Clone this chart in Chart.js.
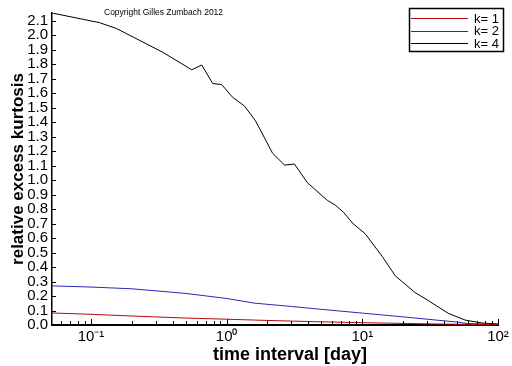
<!DOCTYPE html>
<html>
<head>
<meta charset="utf-8">
<script src="https://cdn.jsdelivr.net/npm/chart.js@4/dist/chart.umd.min.js"></script>
<style>
  html, body { margin: 0; padding: 0; background: #fff; }
  #wrap { width: 512px; height: 366px; }
</style>
</head>
<body>
<div id="wrap"><canvas id="kurtosis-chart"></canvas></div>
<script>
// time interval [day] and relative excess kurtosis
const k1Days = [0.0516, 0.1, 0.2, 0.5, 1, 1.6, 3, 5, 10, 20, 30, 50, 100];
const k1Values = [0.083, 0.074, 0.062, 0.048, 0.04, 0.034, 0.027, 0.022, 0.016, 0.011, 0.008, 0.005, 0.003];

const k2Days = [0.0516, 0.1, 0.2, 0.5, 1, 1.6, 3, 5, 10, 20, 35, 48, 60, 100];
const k2Values = [0.27, 0.262, 0.25, 0.218, 0.183, 0.151, 0.128, 0.108, 0.082, 0.056, 0.034, 0.022, 0.01, 0.004];

const k4Days = [0.0516, 0.116, 0.155, 0.338, 0.553, 0.655, 0.789, 0.918, 1.107, 1.356, 1.633,
  2.18, 2.67, 3.16, 3.94, 5.53, 6.33, 7.25, 8.58, 10.5, 14.0, 17.5, 24.5, 30.6, 42.9, 57.2, 76.2, 100];
const k4Values = [2.154, 2.087, 2.046, 1.883, 1.762, 1.795, 1.667, 1.66, 1.572, 1.511, 1.409,
  1.186, 1.104, 1.111, 0.982, 0.86, 0.827, 0.779, 0.698, 0.63, 0.474, 0.339, 0.224, 0.169, 0.081, 0.034, 0.014, 0.007];

const xMajorTicks = [0.1, 1, 10, 100];
const xTickLabels = ["10\u207B\u00B9", "10\u2070", "10\u00B9", "10\u00B2"];
const xTitle = "time interval [day]";

const COLORS = {
  k1: "#b40a0a",
  k2: "#2828b4",
  k4: "#000000",
};

const FONT = "'Liberation Sans', Arial, sans-serif";

const toPoints = (xs, ys) => xs.map((x, i) => ({ x, y: ys[i] }));

// minor ticks of the log axis: 1..9 times each decade
function logTicks(min, max) {
  const out = [];
  for (let e = -2; e <= 2; e++) {
    for (let m = 1; m <= 9; m++) {
      const v = m * Math.pow(10, e);
      if (v >= min * 0.999 && v <= max * 1.001) out.push(v);
    }
  }
  return out;
}

// inward tick marks, x title, legend box and copyright text
const decorPlugin = {
  id: "decor",
  afterDraw(chart) {
    const ctx = chart.ctx;
    const x = chart.scales.x;
    const y = chart.scales.y;
    const area = chart.chartArea;
    ctx.save();
    ctx.strokeStyle = "#000";
    ctx.lineWidth = 1;
    ctx.beginPath();
    logTicks(x.min, x.max).forEach((v) => {
      const px = Math.round(x.getPixelForValue(v)) + 0.5;
      const major = xMajorTicks.includes(v);
      ctx.moveTo(px, area.bottom);
      ctx.lineTo(px, area.bottom - (major ? 6 : 4));
    });
    y.ticks.forEach((t) => {
      const py = Math.round(y.getPixelForValue(t.value)) + 0.5;
      ctx.moveTo(area.left, py);
      ctx.lineTo(area.left + 4, py);
    });
    ctx.stroke();

    // x axis title, sits a little right of the plot centre
    ctx.fillStyle = "#000";
    ctx.font = "bold 18px " + FONT;
    ctx.textAlign = "center";
    ctx.textBaseline = "alphabetic";
    ctx.fillText(xTitle, 290, 360);

    // legend
    const bx = 409, by = 8, bw = 94, bh = 43;
    ctx.fillStyle = "#fff";
    ctx.fillRect(bx, by, bw, bh);
    ctx.lineWidth = 1.5;
    ctx.strokeRect(bx + 0.5, by + 0.5, bw, bh);
    ctx.font = "13px " + FONT;
    ctx.textAlign = "right";
    ctx.textBaseline = "middle";
    chart.data.datasets.forEach((ds, i) => {
      const ly = 18 + i * 12.5;
      ctx.strokeStyle = ds.borderColor;
      ctx.lineWidth = 1;
      ctx.beginPath();
      ctx.moveTo(bx + 2, Math.round(ly) + 0.5);
      ctx.lineTo(bx + 59, Math.round(ly) + 0.5);
      ctx.stroke();
      ctx.fillStyle = "#000";
      ctx.fillText(ds.label, 499, ly + 1);
    });

    ctx.font = "8.5px " + FONT;
    ctx.textAlign = "left";
    ctx.fillText("Copyright Gilles Zumbach 2012", 104, 13);
    ctx.restore();
  },
};

const chartCtx = document.getElementById("kurtosis-chart");

new Chart(chartCtx, {
  type: "line",
  data: {
    datasets: [
      { label: "k= 1", data: toPoints(k1Days, k1Values), borderColor: COLORS.k1 },
      { label: "k= 2", data: toPoints(k2Days, k2Values), borderColor: COLORS.k2 },
      { label: "k= 4", data: toPoints(k4Days, k4Values), borderColor: COLORS.k4 },
    ],
  },
  options: {
    responsive: true,
    maintainAspectRatio: false,
    animation: false,
    layout: { padding: { top: 7, right: 14, left: 0, bottom: 0 } },
    elements: {
      point: { radius: 0 },
      line: { borderWidth: 1, tension: 0 },
    },
    plugins: {
      legend: { display: false },
      tooltip: { enabled: false },
    },
    scales: {
      x: {
        type: "logarithmic",
        min: 0.0516,
        max: 100,
        afterBuildTicks: (scale) => {
          scale.ticks = xMajorTicks.map((v) => ({ value: v }));
        },
        afterFit: (scale) => {
          scale.height = 41;
        },
        grid: { display: false, drawTicks: false },
        border: { color: "#000", width: 2 },
        ticks: {
          color: "#000",
          padding: 3,
          maxRotation: 0,
          autoSkip: false,
          font: { family: FONT, size: 15 },
          callback: (v) => {
            const i = xMajorTicks.indexOf(v);
            return i >= 0 ? xTickLabels[i] : "";
          },
        },
      },
      y: {
        min: 0,
        max: 2.154,
        afterFit: (scale) => {
          scale.width = 52;
        },
        grid: { display: false, drawTicks: false },
        border: { color: "#000", width: 1.5 },
        ticks: {
          stepSize: 0.1,
          includeBounds: false,
          autoSkip: false,
          color: "#000",
          padding: 4,
          font: { family: FONT, size: 15 },
          callback: (v) => v.toFixed(1),
        },
        title: {
          display: true,
          text: "relative excess kurtosis",
          color: "#000",
          padding: { top: 8, bottom: 0 },
          font: { family: FONT, size: 17, weight: "bold" },
        },
      },
    },
  },
  plugins: [decorPlugin],
});
</script>
</body>
</html>
